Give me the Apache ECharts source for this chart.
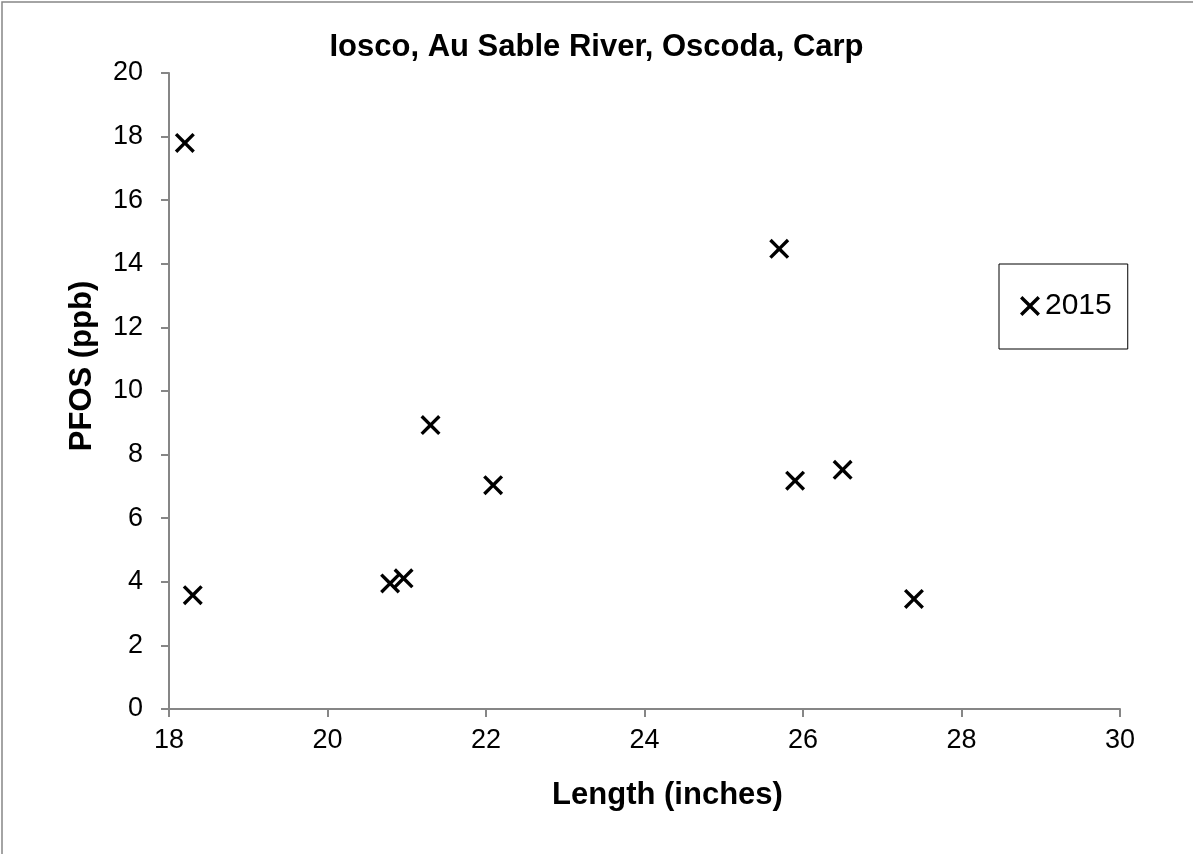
<!DOCTYPE html>
<html>
<head>
<meta charset="utf-8">
<script src="https://cdn.jsdelivr.net/npm/echarts@6/dist/echarts.min.js"></script>
<style>
html,body{margin:0;padding:0;background:#fff;}
#chart{width:1193px;height:854px;}
</style>
</head>
<body>
<div id="chart"></div>
<script>
const titleText = 'Iosco, Au Sable River, Oscoda, Carp';
const xAxisTitle = 'Length (inches)';
const yAxisTitle = 'PFOS (ppb)';
const seriesName = '2015';
const lengthInches = [18.20, 18.30, 20.79, 20.96, 21.30, 22.09, 25.70, 25.90, 26.50, 27.40];
const pfosPpb =      [17.80,  3.58,  3.95,  4.11,  8.93,  7.04, 14.47,  7.18,  7.52,  3.46];

const crossPath = 'path://M12,0L50,38L88,0L100,12L62,50L100,88L88,100L50,62L12,100L0,88L38,50L0,12Z';
const font = '"Liberation Sans", Arial, sans-serif';

const chart = echarts.init(document.getElementById('chart'), null, {renderer: 'canvas'});
chart.setOption({
  backgroundColor: '#fff',
  animation: false,
  textStyle: {fontFamily: font},
  title: {
    text: titleText,
    left: 'center',
    top: 27,
    textStyle: {fontFamily: font, fontSize: 31, fontWeight: 'bold', color: '#000'}
  },
  graphic: [{
    type: 'rect',
    shape: {x: 2, y: 2, width: 1300, height: 1000},
    style: {fill: 'none', stroke: '#868686', lineWidth: 1.5},
    silent: true
  }],
  legend: {
    left: 999,
    top: 264,
    orient: 'vertical',
    borderColor: '#000',
    borderWidth: 1,
    padding: [27, 16, 28, 21],
    itemWidth: 20,
    itemHeight: 20,
    icon: crossPath,
    itemStyle: {opacity: 1, color: '#000'},
    textStyle: {fontFamily: font, fontSize: 30, color: '#000', lineHeight: 28},
    data: [seriesName]
  },
  grid: {left: 169, top: 73, width: 951, height: 636},
  xAxis: {
    type: 'value',
    min: 18, max: 30, interval: 2,
    name: xAxisTitle,
    nameLocation: 'middle',
    nameGap: 71,
    nameTextStyle: {fontFamily: font, fontSize: 31, fontWeight: 'bold', color: '#000', padding: [0, 0, 0, 46]},
    axisLine: {show: true, lineStyle: {color: '#868686', width: 2}},
    axisTick: {show: true, inside: false, length: 8, lineStyle: {color: '#868686', width: 2}},
    axisLabel: {fontFamily: font, fontSize: 27, color: '#000', margin: 18},
    splitLine: {show: false}
  },
  yAxis: {
    type: 'value',
    min: 0, max: 20, interval: 2,
    name: yAxisTitle,
    nameLocation: 'middle',
    nameGap: 71,
    nameTextStyle: {fontFamily: font, fontSize: 31, fontWeight: 'bold', color: '#000', padding: [0, 0, 0, 50]},
    axisLine: {show: true, lineStyle: {color: '#868686', width: 2}},
    axisTick: {show: true, inside: false, length: 8, lineStyle: {color: '#868686', width: 2}},
    axisLabel: {fontFamily: font, fontSize: 27, color: '#000', margin: 26},
    splitLine: {show: false}
  },
  series: [{
    name: seriesName,
    type: 'scatter',
    symbol: crossPath,
    symbolSize: 20,
    itemStyle: {color: '#000', opacity: 1},
    data: lengthInches.map((x, i) => [x, pfosPpb[i]])
  }]
});
</script>
</body>
</html>
